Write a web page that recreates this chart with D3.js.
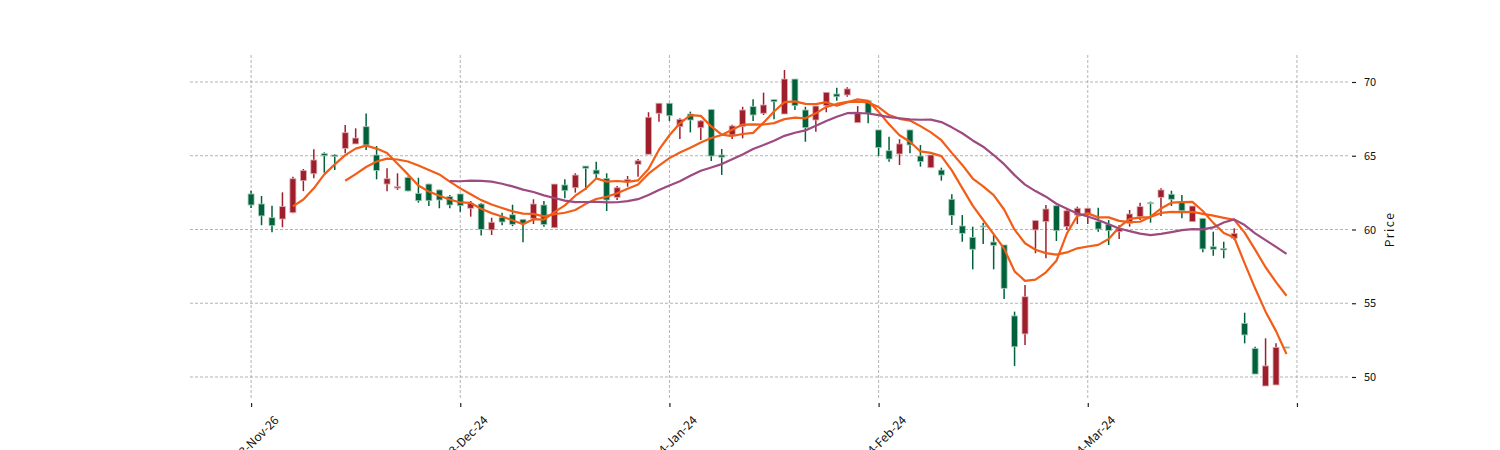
<!DOCTYPE html>
<html>
<head>
<meta charset="utf-8">
<script src="https://cdn.jsdelivr.net/npm/d3@7"></script>
<style>
  html, body { margin: 0; padding: 0; background: #ffffff; }
  svg { display: block; }
</style>
</head>
<body>
<svg id="chart" width="1500" height="450"></svg>
<script>
// ---- data ----
const opens = [62.41,61.73,60.80,60.71,61.14,63.31,63.78,65.14,65.05,65.50,
  65.80,66.97,65.05,63.08,62.81,63.53,62.45,63.08,62.68,62.23,
  62.41,61.44,61.73,59.97,60.83,61.00,60.69,60.76,61.66,60.12,
  63.02,62.83,64.30,64.03,63.47,62.18,63.24,64.42,65.10,67.88,
  68.56,66.97,67.83,66.90,68.14,65.05,66.41,66.97,68.33,67.88,
  68.81,67.83,70.20,68.10,67.42,68.39,69.19,69.12,67.24,68.73,
  66.75,65.34,65.12,66.75,64.98,64.19,64.03,62.05,60.24,59.47,
  60.24,59.15,58.95,54.14,52.92,59.97,60.53,61.61,60.19,60.98,
  60.98,60.53,60.35,59.85,60.42,60.87,61.82,62.18,62.39,61.89,
  60.53,60.76,58.83,58.72,59.40,53.64,51.94,49.39,49.46,52.03];
const highs = [62.63,62.27,61.61,62.52,63.58,64.10,65.44,65.23,65.10,67.08,
  66.86,67.87,65.66,64.15,63.81,63.60,63.51,63.10,62.70,62.34,
  62.41,61.93,61.80,60.80,61.14,61.68,60.70,62.05,61.93,63.08,
  63.40,63.81,64.30,64.60,63.81,62.95,63.63,64.78,67.95,68.56,
  68.56,67.54,67.99,67.40,68.14,65.46,67.10,68.32,68.83,69.28,
  68.81,70.81,70.20,68.32,68.37,69.30,69.61,69.64,68.37,68.73,
  66.75,66.29,66.12,66.75,65.73,65.05,64.19,62.39,60.98,60.19,
  60.46,59.63,58.95,54.43,56.24,60.64,61.66,61.61,61.44,61.55,
  61.44,61.48,60.64,60.30,61.32,61.82,61.89,62.79,62.63,62.34,
  61.59,60.76,59.85,59.17,60.08,54.36,52.05,52.62,52.28,52.05];
const lows = [61.45,60.29,59.81,60.15,61.10,62.60,63.47,63.85,64.03,65.17,
  65.80,65.39,63.40,62.60,62.68,62.60,61.82,61.59,61.44,61.44,
  61.20,60.87,59.60,59.63,60.28,60.22,59.13,60.37,60.19,60.12,
  62.12,62.50,62.68,63.47,61.25,62.00,62.90,63.58,65.10,67.31,
  67.36,66.14,66.58,66.07,64.64,63.70,66.14,66.18,67.36,67.76,
  67.47,67.83,68.10,65.95,66.63,67.95,68.73,69.00,67.24,67.20,
  64.98,64.60,64.37,65.17,64.26,64.19,63.31,60.31,59.17,57.30,
  59.02,57.30,55.29,50.75,52.17,58.39,58.05,59.22,59.97,60.37,
  60.37,59.85,58.95,59.36,60.19,60.64,60.46,60.92,61.59,60.76,
  60.53,58.45,58.22,58.05,59.29,52.28,50.20,49.39,49.46,51.98];
const closes = [61.66,60.92,60.26,61.55,63.44,63.99,64.71,65.00,64.94,66.56,
  66.20,65.73,64.00,63.44,62.90,62.61,61.95,61.95,62.00,61.66,
  61.61,61.78,60.01,60.49,60.51,60.35,60.42,61.73,60.33,63.08,
  62.63,63.69,64.15,63.76,62.00,62.83,63.40,64.66,67.61,68.56,
  67.71,67.47,67.42,67.36,64.98,64.90,67.02,68.10,67.76,68.44,
  68.66,70.20,68.39,66.90,68.37,69.30,69.00,69.53,67.92,67.88,
  65.55,64.78,65.80,65.73,64.60,65.05,63.69,60.96,59.74,58.66,
  60.17,58.93,56.01,52.05,55.44,60.60,61.39,59.92,61.27,61.44,
  61.44,60.03,59.92,60.08,61.05,61.55,61.75,62.68,62.05,61.27,
  61.59,58.68,58.66,58.61,59.74,52.85,50.20,50.75,52.01,52.00];
const xTickIndex = [0, 20, 40, 60, 80, 100];
const xTickLabels = ["2023-Nov-26", "2023-Dec-24", "2024-Jan-24", "2024-Feb-24", "2024-Mar-24", ""];
const yTicks = [50, 55, 60, 65, 70];
const maWindows = [5, 10, 20];
const maColors = ["#f25d17", "#f25d17", "#9c4a80"];

// ---- layout ----
const svg = d3.select("#chart");
const plot = { left: 190, right: 1346, top: 55, bottom: 400 };
const x = d3.scaleLinear().domain([-5.84, 104.69]).range([plot.left, plot.right]);
const y = d3.scaleLinear().domain([48.44, 71.83]).range([plot.bottom, plot.top]);
const FONT = "'Noto Sans CJK SC', 'DejaVu Sans', sans-serif";

// grid
const grid = svg.append("g");
grid.selectAll("line.h").data(yTicks).enter().append("line")
  .attr("x1", plot.left).attr("x2", plot.right + 2)
  .attr("y1", d => y(d)).attr("y2", d => y(d))
  .attr("stroke", "#a0a0a0").attr("stroke-width", 0.8).attr("stroke-dasharray", "3,2");
grid.selectAll("line.v").data(xTickIndex).enter().append("line")
  .attr("x1", d => x(d)).attr("x2", d => x(d))
  .attr("y1", plot.top).attr("y2", plot.bottom)
  .attr("stroke", "#a0a0a0").attr("stroke-width", 0.8).attr("stroke-dasharray", "3,2");

// right axis
const yAxis = d3.axisRight(y).tickValues(yTicks).tickSize(4).tickPadding(8).tickFormat(d3.format("d"));
const gy = svg.append("g").attr("transform", `translate(${plot.right + 6},0)`).call(yAxis);
gy.select(".domain").remove();
gy.selectAll(".tick line").attr("stroke", "#222").attr("stroke-width", 1.2);
gy.selectAll(".tick text").attr("font-family", FONT).attr("font-size", 11).attr("fill", "#111");
svg.append("text")
  .attr("transform", `translate(1394, ${y(60)}) rotate(-90)`)
  .attr("text-anchor", "middle")
  .attr("font-family", FONT).attr("font-size", 12).attr("letter-spacing", "1.5px")
  .attr("fill", "#111").text("Price");

// bottom axis
const xAxis = d3.axisBottom(x).tickValues(xTickIndex).tickSize(4).tickFormat((d, i) => xTickLabels[i]);
const gx = svg.append("g").attr("transform", `translate(0, ${plot.bottom + 3})`).call(xAxis);
gx.select(".domain").remove();
gx.selectAll(".tick line").attr("stroke", "#222").attr("stroke-width", 1.2);
gx.selectAll(".tick text")
  .attr("font-family", FONT).attr("font-size", 12).attr("fill", "#111")
  .attr("text-anchor", "end")
  .attr("dy", 0).attr("y", 0)
  .attr("transform", "translate(28, 18) rotate(-45)");

// candles
const idx = d3.range(closes.length);
const up = i => closes[i] >= opens[i];
const RED = "#9e1f2b", GREEN = "#00613b";
const RED_EDGE = "#dcaeb2", GREEN_EDGE = "#a9cdbb";
const bodyW = 6;
const cg = svg.append("g");
cg.selectAll("line.wick").data(idx).enter().append("line")
  .attr("x1", i => x(i)).attr("x2", i => x(i))
  .attr("y1", i => y(highs[i])).attr("y2", i => y(lows[i]))
  .attr("stroke", i => up(i) ? RED : GREEN).attr("stroke-width", 1.5);
cg.selectAll("rect.body").data(idx).enter().append("rect")
  .attr("x", i => x(i) - bodyW / 2).attr("width", bodyW)
  .attr("y", i => y(Math.max(opens[i], closes[i])))
  .attr("height", i => Math.max(1, Math.abs(y(opens[i]) - y(closes[i]))))
  .attr("fill", i => up(i) ? RED : GREEN)
  .attr("stroke", i => up(i) ? RED_EDGE : GREEN_EDGE).attr("stroke-width", 0.8);

// moving averages
maWindows.forEach((w, k) => {
  const pts = idx.filter(i => i >= w - 1).map(i => [i, d3.mean(closes.slice(i - w + 1, i + 1))]);
  svg.append("path")
    .datum(pts)
    .attr("fill", "none").attr("stroke", maColors[k]).attr("stroke-width", 2.2)
    .attr("stroke-linejoin", "round")
    .attr("d", d3.line().x(p => x(p[0])).y(p => y(p[1])));
});
</script>
</body>
</html>
